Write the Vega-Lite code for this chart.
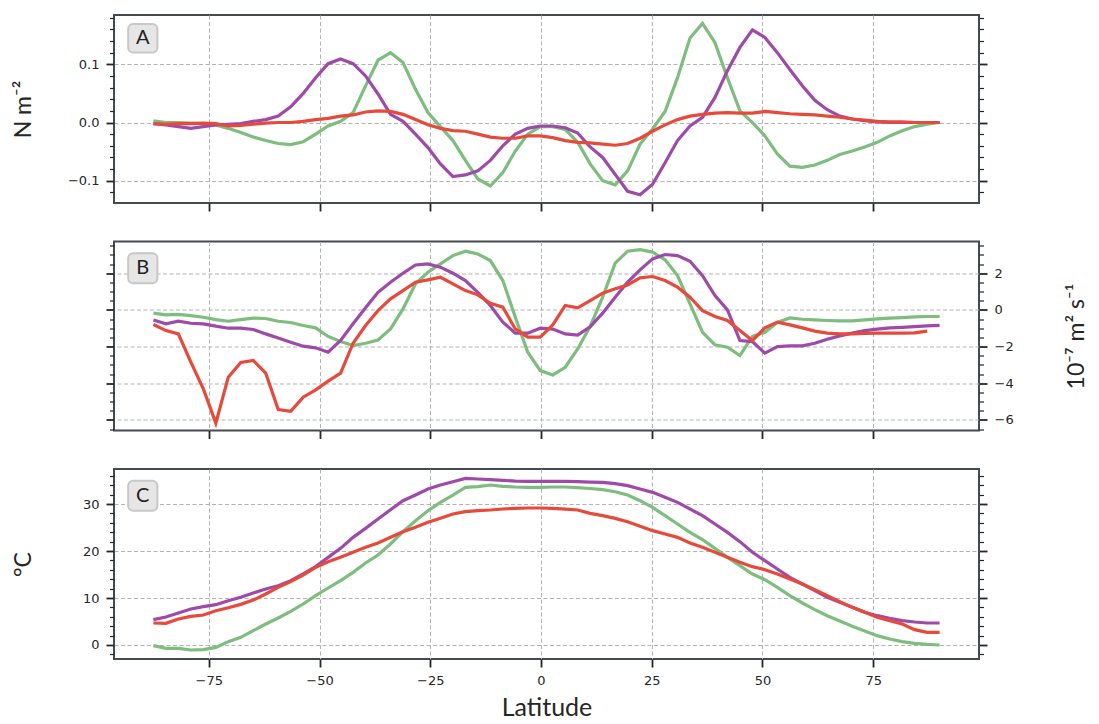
{
"$schema":"https://vega.github.io/schema/vega-lite/v6.json",
"padding":{"left":11,"top":10,"right":5,"bottom":5},
"background":"white",
"spacing":38.5,
"bounds":"flush",
"datasets":{
"A":[
{"lat":-87.5,"g":0.003,"p":-0.002,"r":-0.002},
{"lat":-84.68,"g":0,"p":-0.004,"r":-0.003},
{"lat":-81.87,"g":0,"p":-0.007,"r":-0.002},
{"lat":-79.05,"g":-0.001,"p":-0.01,"r":-0.002},
{"lat":-76.23,"g":-0.002,"p":-0.007,"r":-0.001},
{"lat":-73.41,"g":-0.004,"p":-0.004,"r":-0.002},
{"lat":-70.6,"g":-0.01,"p":-0.003,"r":-0.006},
{"lat":-67.78,"g":-0.017,"p":-0.002,"r":-0.005},
{"lat":-64.96,"g":-0.025,"p":0.002,"r":-0.003},
{"lat":-62.14,"g":-0.031,"p":0.005,"r":-0.001},
{"lat":-59.33,"g":-0.036,"p":0.011,"r":0},
{"lat":-56.51,"g":-0.038,"p":0.027,"r":0},
{"lat":-53.69,"g":-0.033,"p":0.05,"r":0.002},
{"lat":-50.87,"g":-0.02,"p":0.077,"r":0.005},
{"lat":-48.06,"g":-0.006,"p":0.101,"r":0.007},
{"lat":-45.24,"g":0.002,"p":0.109,"r":0.011},
{"lat":-42.42,"g":0.017,"p":0.101,"r":0.013},
{"lat":-39.6,"g":0.063,"p":0.08,"r":0.018},
{"lat":-36.79,"g":0.107,"p":0.049,"r":0.02},
{"lat":-33.97,"g":0.12,"p":0.014,"r":0.019},
{"lat":-31.15,"g":0.103,"p":0.002,"r":0.014},
{"lat":-28.33,"g":0.057,"p":-0.02,"r":0.005},
{"lat":-25.52,"g":0.017,"p":-0.043,"r":-0.004},
{"lat":-22.7,"g":-0.007,"p":-0.071,"r":-0.01},
{"lat":-19.88,"g":-0.031,"p":-0.093,"r":-0.014},
{"lat":-17.06,"g":-0.065,"p":-0.09,"r":-0.015},
{"lat":-14.25,"g":-0.097,"p":-0.083,"r":-0.02},
{"lat":-11.43,"g":-0.109,"p":-0.065,"r":-0.025},
{"lat":-8.61,"g":-0.086,"p":-0.04,"r":-0.027},
{"lat":-5.79,"g":-0.049,"p":-0.02,"r":-0.027},
{"lat":-2.98,"g":-0.02,"p":-0.01,"r":-0.023},
{"lat":-0.16,"g":-0.007,"p":-0.006,"r":-0.023},
{"lat":2.66,"g":-0.007,"p":-0.006,"r":-0.026},
{"lat":5.48,"g":-0.012,"p":-0.009,"r":-0.031},
{"lat":8.29,"g":-0.034,"p":-0.018,"r":-0.034},
{"lat":11.11,"g":-0.071,"p":-0.042,"r":-0.035},
{"lat":13.93,"g":-0.1,"p":-0.06,"r":-0.037},
{"lat":16.75,"g":-0.107,"p":-0.089,"r":-0.039},
{"lat":19.56,"g":-0.083,"p":-0.118,"r":-0.036},
{"lat":22.38,"g":-0.037,"p":-0.124,"r":-0.027},
{"lat":25.2,"g":-0.011,"p":-0.106,"r":-0.015},
{"lat":28.02,"g":0.019,"p":-0.069,"r":-0.004},
{"lat":30.83,"g":0.077,"p":-0.031,"r":0.005},
{"lat":33.65,"g":0.145,"p":-0.006,"r":0.011},
{"lat":36.47,"g":0.17,"p":0.009,"r":0.014},
{"lat":39.29,"g":0.137,"p":0.043,"r":0.016},
{"lat":42.1,"g":0.077,"p":0.089,"r":0.017},
{"lat":44.92,"g":0.02,"p":0.129,"r":0.016},
{"lat":47.74,"g":0,"p":0.159,"r":0.016},
{"lat":50.56,"g":-0.023,"p":0.146,"r":0.019},
{"lat":53.37,"g":-0.054,"p":0.12,"r":0.017},
{"lat":56.19,"g":-0.075,"p":0.091,"r":0.015},
{"lat":59.01,"g":-0.077,"p":0.063,"r":0.014},
{"lat":61.83,"g":-0.073,"p":0.038,"r":0.013},
{"lat":64.64,"g":-0.065,"p":0.022,"r":0.011},
{"lat":67.46,"g":-0.055,"p":0.011,"r":0.009},
{"lat":70.28,"g":-0.049,"p":0.006,"r":0.006},
{"lat":73.1,"g":-0.042,"p":0.003,"r":0.004},
{"lat":75.91,"g":-0.034,"p":0.001,"r":0.002},
{"lat":78.73,"g":-0.023,"p":0,"r":0.001},
{"lat":81.55,"g":-0.014,"p":0,"r":0.001},
{"lat":84.37,"g":-0.007,"p":0,"r":0},
{"lat":87.18,"g":-0.003,"p":0,"r":0},
{"lat":90,"g":0,"p":0,"r":0}
],
"B":[
{"lat":-87.5,"g":-0.18,"p":-0.55,"r":-0.8},
{"lat":-84.68,"g":-0.27,"p":-0.76,"r":-1.13},
{"lat":-81.87,"g":-0.25,"p":-0.62,"r":-1.31},
{"lat":-79.05,"g":-0.31,"p":-0.73,"r":-2.85},
{"lat":-76.23,"g":-0.4,"p":-0.76,"r":-4.31},
{"lat":-73.41,"g":-0.53,"p":-0.89,"r":-6.18},
{"lat":-70.6,"g":-0.62,"p":-1.0,"r":-3.67},
{"lat":-67.78,"g":-0.53,"p":-1.0,"r":-2.87},
{"lat":-64.96,"g":-0.45,"p":-1.07,"r":-2.76},
{"lat":-62.14,"g":-0.47,"p":-1.31,"r":-3.45},
{"lat":-59.33,"g":-0.62,"p":-1.53,"r":-5.44},
{"lat":-56.51,"g":-0.69,"p":-1.76,"r":-5.53},
{"lat":-53.69,"g":-0.85,"p":-1.98,"r":-4.76},
{"lat":-50.87,"g":-0.98,"p":-2.07,"r":-4.36},
{"lat":-48.06,"g":-1.45,"p":-2.31,"r":-3.89},
{"lat":-45.24,"g":-1.73,"p":-1.67,"r":-3.45},
{"lat":-42.42,"g":-1.95,"p":-0.76,"r":-1.82},
{"lat":-39.6,"g":-1.82,"p":0.11,"r":-0.85},
{"lat":-36.79,"g":-1.64,"p":0.96,"r":-0.04},
{"lat":-33.97,"g":-1.04,"p":1.51,"r":0.6},
{"lat":-31.15,"g":0.05,"p":2.0,"r":1.05},
{"lat":-28.33,"g":1.42,"p":2.45,"r":1.51},
{"lat":-25.52,"g":2.05,"p":2.51,"r":1.64},
{"lat":-22.7,"g":2.51,"p":2.33,"r":1.78},
{"lat":-19.88,"g":2.96,"p":2.0,"r":1.42},
{"lat":-17.06,"g":3.2,"p":1.6,"r":1.05},
{"lat":-14.25,"g":3.05,"p":0.96,"r":0.82},
{"lat":-11.43,"g":2.69,"p":0.24,"r":0.36},
{"lat":-8.61,"g":1.6,"p":-0.67,"r":0.15},
{"lat":-5.79,"g":-0.4,"p":-1.27,"r":-1.04},
{"lat":-2.98,"g":-2.31,"p":-1.27,"r":-1.49},
{"lat":-0.16,"g":-3.31,"p":-1.0,"r":-1.49},
{"lat":2.66,"g":-3.55,"p":-1.05,"r":-0.82},
{"lat":5.48,"g":-3.13,"p":-1.31,"r":0.24},
{"lat":8.29,"g":-2.13,"p":-1.38,"r":0.11},
{"lat":11.11,"g":-0.9,"p":-0.92,"r":0.51},
{"lat":13.93,"g":0.69,"p":-0.18,"r":0.91},
{"lat":16.75,"g":2.55,"p":0.69,"r":1.15},
{"lat":19.56,"g":3.2,"p":1.51,"r":1.36},
{"lat":22.38,"g":3.29,"p":2.18,"r":1.75},
{"lat":25.2,"g":3.15,"p":2.78,"r":1.82},
{"lat":28.02,"g":2.73,"p":3.02,"r":1.6},
{"lat":30.83,"g":1.87,"p":2.96,"r":1.24},
{"lat":33.65,"g":0.33,"p":2.65,"r":0.69},
{"lat":36.47,"g":-1.22,"p":1.87,"r":-0.04},
{"lat":39.29,"g":-1.91,"p":0.78,"r":-0.36},
{"lat":42.1,"g":-2.04,"p":0,"r":-0.58},
{"lat":44.92,"g":-2.49,"p":-1.67,"r":-1.13},
{"lat":47.74,"g":-1.45,"p":-1.73,"r":-1.67},
{"lat":50.56,"g":-1.22,"p":-2.36,"r":-0.98},
{"lat":53.37,"g":-0.69,"p":-2.0,"r":-0.67},
{"lat":56.19,"g":-0.44,"p":-1.96,"r":-0.82},
{"lat":59.01,"g":-0.51,"p":-1.96,"r":-0.98},
{"lat":61.83,"g":-0.55,"p":-1.82,"r":-1.16},
{"lat":64.64,"g":-0.58,"p":-1.6,"r":-1.27},
{"lat":67.46,"g":-0.6,"p":-1.42,"r":-1.31},
{"lat":70.28,"g":-0.6,"p":-1.27,"r":-1.31},
{"lat":73.1,"g":-0.55,"p":-1.13,"r":-1.29},
{"lat":75.91,"g":-0.49,"p":-1.05,"r":-1.27},
{"lat":78.73,"g":-0.45,"p":-0.98,"r":-1.27},
{"lat":81.55,"g":-0.42,"p":-0.95,"r":-1.27},
{"lat":84.37,"g":-0.38,"p":-0.91,"r":-1.25},
{"lat":87.18,"g":-0.36,"p":-0.87,"r":-1.16},
{"lat":90,"g":-0.36,"p":-0.85,"r":null}
],
"C":[
{"lat":-87.5,"g":-0.14,"p":5.39,"r":4.68},
{"lat":-84.68,"g":-0.71,"p":5.96,"r":4.61},
{"lat":-81.87,"g":-0.71,"p":6.81,"r":5.53},
{"lat":-79.05,"g":-1.06,"p":7.66,"r":6.1},
{"lat":-76.23,"g":-0.99,"p":8.16,"r":6.38},
{"lat":-73.41,"g":-0.5,"p":8.58,"r":7.3},
{"lat":-70.6,"g":0.71,"p":9.43,"r":7.94},
{"lat":-67.78,"g":1.63,"p":10.14,"r":8.65},
{"lat":-64.96,"g":3.05,"p":11.06,"r":9.57},
{"lat":-62.14,"g":4.47,"p":11.91,"r":10.85},
{"lat":-59.33,"g":5.74,"p":12.62,"r":12.27},
{"lat":-56.51,"g":7.16,"p":13.69,"r":13.48},
{"lat":-53.69,"g":8.72,"p":15.11,"r":14.89},
{"lat":-50.87,"g":10.5,"p":16.67,"r":16.52},
{"lat":-48.06,"g":12.13,"p":18.65,"r":17.73},
{"lat":-45.24,"g":13.69,"p":20.57,"r":18.65},
{"lat":-42.42,"g":15.46,"p":22.91,"r":19.72},
{"lat":-39.6,"g":17.45,"p":24.82,"r":20.78},
{"lat":-36.79,"g":19.15,"p":26.81,"r":21.7},
{"lat":-33.97,"g":21.49,"p":28.79,"r":22.91},
{"lat":-31.15,"g":24.11,"p":30.71,"r":24.11},
{"lat":-28.33,"g":26.45,"p":31.91,"r":25.04},
{"lat":-25.52,"g":28.58,"p":33.19,"r":26.1},
{"lat":-22.7,"g":30.35,"p":34.04,"r":26.95},
{"lat":-19.88,"g":31.91,"p":34.75,"r":27.87},
{"lat":-17.06,"g":33.55,"p":35.46,"r":28.37},
{"lat":-14.25,"g":33.69,"p":35.32,"r":28.58},
{"lat":-11.43,"g":34.04,"p":35.18,"r":28.72},
{"lat":-8.61,"g":33.76,"p":35.04,"r":28.94},
{"lat":-5.79,"g":33.62,"p":34.89,"r":29.08},
{"lat":-2.98,"g":33.55,"p":34.82,"r":29.15},
{"lat":-0.16,"g":33.55,"p":34.82,"r":29.15},
{"lat":2.66,"g":33.62,"p":34.82,"r":29.08},
{"lat":5.48,"g":33.62,"p":34.82,"r":28.9},
{"lat":8.29,"g":33.48,"p":34.75,"r":28.72},
{"lat":11.11,"g":33.3,"p":34.65,"r":28.0},
{"lat":13.93,"g":33.05,"p":34.6,"r":27.52},
{"lat":16.75,"g":32.62,"p":34.33,"r":26.95},
{"lat":19.56,"g":31.91,"p":33.9,"r":26.24},
{"lat":22.38,"g":30.71,"p":33.19,"r":25.25},
{"lat":25.2,"g":29.29,"p":32.48,"r":24.33},
{"lat":28.02,"g":27.52,"p":31.42,"r":23.62},
{"lat":30.83,"g":25.74,"p":30.35,"r":22.91},
{"lat":33.65,"g":23.97,"p":28.94,"r":21.7},
{"lat":36.47,"g":22.41,"p":27.52,"r":20.78},
{"lat":39.29,"g":20.57,"p":25.74,"r":19.72},
{"lat":42.1,"g":18.65,"p":23.97,"r":18.65},
{"lat":44.92,"g":16.88,"p":21.99,"r":17.59},
{"lat":47.74,"g":15.11,"p":19.72,"r":16.67},
{"lat":50.56,"g":13.9,"p":17.94,"r":16.03},
{"lat":53.37,"g":12.27,"p":16.17,"r":15.11},
{"lat":56.19,"g":10.5,"p":14.4,"r":14.04},
{"lat":59.01,"g":8.94,"p":12.98,"r":12.98},
{"lat":61.83,"g":7.52,"p":11.56,"r":11.77},
{"lat":64.64,"g":6.24,"p":10.14,"r":10.5},
{"lat":67.46,"g":5.11,"p":9.08,"r":9.22},
{"lat":70.28,"g":3.97,"p":8.01,"r":8.01},
{"lat":73.1,"g":2.98,"p":6.95,"r":6.95},
{"lat":75.91,"g":1.99,"p":6.24,"r":5.89},
{"lat":78.73,"g":1.28,"p":5.67,"r":5.18},
{"lat":81.55,"g":0.71,"p":5.18,"r":4.47},
{"lat":84.37,"g":0.35,"p":4.89,"r":3.26},
{"lat":87.18,"g":0.14,"p":4.68,"r":2.7},
{"lat":90,"g":0,"p":4.68,"r":2.7}
]
},
"vconcat":[
{
"width":865,"height":188,
"resolve":{"axis":{"y":"independent"}},
"layer":[
{"data":{"name":"A"},"transform":[{"fold":["g","p","r"],"as":["s","v"]}],
"mark":{"type":"line","strokeWidth":3.2},
"encoding":{
"x":{"field":"lat","type":"quantitative","scale":{"domain":[-96.4,98.9],"nice":false,"zero":false},
"axis":{"orient":"bottom","values":[-75,-50,-25,0,25,50,75],"labels":false,"title":null,"grid":true,"tickSize":8,"tickWidth":1.8}},
"y":{"field":"v","type":"quantitative","scale":{"domain":[-0.1382,0.1846],"nice":false,"zero":false},
"axis":{"orient":"left","values":[-0.12,-0.1,-0.08,-0.06,-0.04,-0.02,0,0.02,0.04,0.06,0.08,0.1,0.12,0.14,0.16,0.18],
"format":".1f","labelOverlap":false,
"labelExpr":"indexof([-0.1,0,0.1], datum.value) >= 0 ? datum.label : ''",
"tickSize":{"condition":{"test":"indexof([-0.1,0,0.1], datum.value) >= 0","value":8},"value":4.5},
"tickWidth":{"condition":{"test":"indexof([-0.1,0,0.1], datum.value) >= 0","value":1.8},"value":1.2},
"grid":true,
"gridOpacity":{"condition":{"test":"indexof([-0.1,0,0.1], datum.value) >= 0","value":1},"value":0},
"title":"N m⁻²","titlePadding":32}},
"color":{"field":"s","type":"nominal","scale":{"domain":["g","p","r"],"range":["#7dbd7d","#9e4aa9","#e74a3b"]},"legend":null}
}},
{"data":{"name":"A"},"transform":[{"fold":["g","p","r"],"as":["s","v"]}],
"mark":{"type":"line","opacity":0},
"encoding":{
"x":{"field":"lat","type":"quantitative","scale":{"domain":[-96.4,98.9],"nice":false,"zero":false},
"axis":{"orient":"bottom","values":[-75,-50,-25,0,25,50,75],"labels":false,"title":null,"grid":true,"tickSize":8,"tickWidth":1.8}},
"y":{"field":"v","type":"quantitative","scale":{"domain":[-0.1382,0.1846],"nice":false,"zero":false},
"axis":{"orient":"right","values":[-0.12,-0.1,-0.08,-0.06,-0.04,-0.02,0,0.02,0.04,0.06,0.08,0.1,0.12,0.14,0.16,0.18],
"labels":false,"grid":false,"title":null,
"tickSize":{"condition":{"test":"indexof([-0.1,0,0.1], datum.value) >= 0","value":8},"value":4.5},
"tickWidth":{"condition":{"test":"indexof([-0.1,0,0.1], datum.value) >= 0","value":1.8},"value":1.2}}}
}},
{"data":{"values":[{}]},
"mark":{"type":"rect","cornerRadius":5,"fill":"#e6e6e6","stroke":"#c8c8c8","strokeWidth":2},
"encoding":{
"x":{"datum":-93.2,"type":"quantitative","scale":{"domain":[-96.4,98.9],"nice":false,"zero":false},
"axis":{"orient":"bottom","values":[-75,-50,-25,0,25,50,75],"labels":false,"title":null,"grid":true,"tickSize":8,"tickWidth":1.8}},
"x2":{"datum":-86.6},
"y":{"datum":0.169,"type":"quantitative","scale":{"domain":[-0.1382,0.1846],"nice":false,"zero":false},"axis":null},
"y2":{"datum":0.120}}},
{"data":{"values":[{}]},
"mark":{"type":"text","text":"A","font":"Lato","fontSize":20,"color":"#222222","align":"center","baseline":"middle"},
"encoding":{
"x":{"datum":-89.9,"type":"quantitative","scale":{"domain":[-96.4,98.9],"nice":false,"zero":false},
"axis":{"orient":"bottom","values":[-75,-50,-25,0,25,50,75],"labels":false,"title":null,"grid":true,"tickSize":8,"tickWidth":1.8}},
"y":{"datum":0.1448,"type":"quantitative","scale":{"domain":[-0.1382,0.1846],"nice":false,"zero":false},"axis":null}}}
]
},
{
"width":865,"height":189,
"resolve":{"axis":{"y":"independent"}},
"layer":[
{"data":{"name":"B"},"transform":[{"fold":["g","p","r"],"as":["s","v"]}],
"mark":{"type":"line","strokeWidth":3.2},
"encoding":{
"x":{"field":"lat","type":"quantitative","scale":{"domain":[-96.4,98.9],"nice":false,"zero":false},
"axis":{"orient":"bottom","values":[-75,-50,-25,0,25,50,75],"labels":false,"title":null,"grid":true,"tickSize":8,"tickWidth":1.8}},
"y":{"field":"v","type":"quantitative","scale":{"domain":[-6.58,3.73],"nice":false,"zero":false},
"axis":{"orient":"right","values":[-6.5,-6,-5.5,-5,-4.5,-4,-3.5,-3,-2.5,-2,-1.5,-1,-0.5,0,0.5,1,1.5,2,2.5,3,3.5],
"format":".0f","labelOverlap":false,
"labelExpr":"datum.value % 2 == 0 ? datum.label : ''",
"tickSize":{"condition":{"test":"datum.value % 2 == 0","value":8},"value":4.5},
"tickWidth":{"condition":{"test":"datum.value % 2 == 0","value":1.8},"value":1.2},
"grid":true,
"gridOpacity":{"condition":{"test":"datum.value % 2 == 0","value":1},"value":0},
"title":"10⁻⁷ m² s⁻¹","titleAngle":270,"titleBaseline":"top","titlePadding":52}},
"color":{"field":"s","type":"nominal","scale":{"domain":["g","p","r"],"range":["#7dbd7d","#9e4aa9","#e74a3b"]},"legend":null}
}},
{"data":{"name":"B"},"transform":[{"fold":["g","p","r"],"as":["s","v"]}],
"mark":{"type":"line","opacity":0},
"encoding":{
"x":{"field":"lat","type":"quantitative","scale":{"domain":[-96.4,98.9],"nice":false,"zero":false},
"axis":{"orient":"bottom","values":[-75,-50,-25,0,25,50,75],"labels":false,"title":null,"grid":true,"tickSize":8,"tickWidth":1.8}},
"y":{"field":"v","type":"quantitative","scale":{"domain":[-6.58,3.73],"nice":false,"zero":false},
"axis":{"orient":"left","values":[-6.5,-6,-5.5,-5,-4.5,-4,-3.5,-3,-2.5,-2,-1.5,-1,-0.5,0,0.5,1,1.5,2,2.5,3,3.5],
"labels":false,"grid":false,"title":null,
"tickSize":{"condition":{"test":"datum.value % 2 == 0","value":8},"value":4.5},
"tickWidth":{"condition":{"test":"datum.value % 2 == 0","value":1.8},"value":1.2}}}
}},
{"data":{"values":[{}]},
"mark":{"type":"rect","cornerRadius":5,"fill":"#e6e6e6","stroke":"#c8c8c8","strokeWidth":2},
"encoding":{
"x":{"datum":-93.2,"type":"quantitative","scale":{"domain":[-96.4,98.9],"nice":false,"zero":false},
"axis":{"orient":"bottom","values":[-75,-50,-25,0,25,50,75],"labels":false,"title":null,"grid":true,"tickSize":8,"tickWidth":1.8}},
"x2":{"datum":-86.6},
"y":{"datum":3.09,"type":"quantitative","scale":{"domain":[-6.58,3.73],"nice":false,"zero":false},"axis":null},
"y2":{"datum":1.45}}},
{"data":{"values":[{}]},
"mark":{"type":"text","text":"B","font":"Lato","fontSize":20,"color":"#222222","align":"center","baseline":"middle"},
"encoding":{
"x":{"datum":-89.9,"type":"quantitative","scale":{"domain":[-96.4,98.9],"nice":false,"zero":false},
"axis":{"orient":"bottom","values":[-75,-50,-25,0,25,50,75],"labels":false,"title":null,"grid":true,"tickSize":8,"tickWidth":1.8}},
"y":{"datum":2.27,"type":"quantitative","scale":{"domain":[-6.58,3.73],"nice":false,"zero":false},"axis":null}}}
]
},
{
"width":865,"height":190,
"resolve":{"axis":{"y":"independent"}},
"layer":[
{"data":{"name":"C"},"transform":[{"fold":["g","p","r"],"as":["s","v"]}],
"mark":{"type":"line","strokeWidth":3.2},
"encoding":{
"x":{"field":"lat","type":"quantitative","scale":{"domain":[-96.4,98.9],"nice":false,"zero":false},
"axis":{"orient":"bottom","values":[-75,-50,-25,0,25,50,75],"labels":true,"title":"Latitude","titleFontSize":25,"titlePadding":8,"grid":true,"tickSize":8,"tickWidth":1.8}},
"y":{"field":"v","type":"quantitative","scale":{"domain":[-2.98,37.45],"nice":false,"zero":false},
"axis":{"orient":"left","values":[-2,0,2,4,6,8,10,12,14,16,18,20,22,24,26,28,30,32,34,36],
"format":".0f","labelOverlap":false,
"labelExpr":"datum.value % 10 == 0 ? datum.label : ''",
"tickSize":{"condition":{"test":"datum.value % 10 == 0","value":8},"value":4.5},
"tickWidth":{"condition":{"test":"datum.value % 10 == 0","value":1.8},"value":1.2},
"grid":true,
"gridOpacity":{"condition":{"test":"datum.value % 10 == 0","value":1},"value":0},
"title":"°C","titlePadding":47}},
"color":{"field":"s","type":"nominal","scale":{"domain":["g","p","r"],"range":["#7dbd7d","#9e4aa9","#e74a3b"]},"legend":null}
}},
{"data":{"name":"C"},"transform":[{"fold":["g","p","r"],"as":["s","v"]}],
"mark":{"type":"line","opacity":0},
"encoding":{
"x":{"field":"lat","type":"quantitative","scale":{"domain":[-96.4,98.9],"nice":false,"zero":false},
"axis":{"orient":"bottom","values":[-75,-50,-25,0,25,50,75],"labels":true,"title":"Latitude","titleFontSize":25,"titlePadding":8,"grid":true,"tickSize":8,"tickWidth":1.8}},
"y":{"field":"v","type":"quantitative","scale":{"domain":[-2.98,37.45],"nice":false,"zero":false},
"axis":{"orient":"right","values":[-2,0,2,4,6,8,10,12,14,16,18,20,22,24,26,28,30,32,34,36],
"labels":false,"grid":false,"title":null,
"tickSize":{"condition":{"test":"datum.value % 10 == 0","value":8},"value":4.5},
"tickWidth":{"condition":{"test":"datum.value % 10 == 0","value":1.8},"value":1.2}}}
}},
{"data":{"values":[{}]},
"mark":{"type":"rect","cornerRadius":5,"fill":"#e6e6e6","stroke":"#c8c8c8","strokeWidth":2},
"encoding":{
"x":{"datum":-93.2,"type":"quantitative","scale":{"domain":[-96.4,98.9],"nice":false,"zero":false},
"axis":{"orient":"bottom","values":[-75,-50,-25,0,25,50,75],"labels":true,"title":"Latitude","titleFontSize":25,"titlePadding":8,"grid":true,"tickSize":8,"tickWidth":1.8}},
"x2":{"datum":-86.6},
"y":{"datum":34.96,"type":"quantitative","scale":{"domain":[-2.98,37.45],"nice":false,"zero":false},"axis":null},
"y2":{"datum":28.57}}},
{"data":{"values":[{}]},
"mark":{"type":"text","text":"C","font":"Lato","fontSize":20,"color":"#222222","align":"center","baseline":"middle"},
"encoding":{
"x":{"datum":-89.9,"type":"quantitative","scale":{"domain":[-96.4,98.9],"nice":false,"zero":false},
"axis":{"orient":"bottom","values":[-75,-50,-25,0,25,50,75],"labels":true,"title":"Latitude","titleFontSize":25,"titlePadding":8,"grid":true,"tickSize":8,"tickWidth":1.8}},
"y":{"datum":31.77,"type":"quantitative","scale":{"domain":[-2.98,37.45],"nice":false,"zero":false},"axis":null}}}
]
}
],
"config":{
"view":{"stroke":"#454a4f","strokeWidth":2},
"axis":{"domain":false,"labelFont":"DejaVu Sans","labelFontSize":13,"labelColor":"#262626","tickColor":"#262626",
"gridColor":"#b3b3b3","gridDash":[4,2.5],"gridWidth":1,"titleFont":"Lato","titleFontSize":23,"titleFontWeight":"normal","titleColor":"#262626","labelPadding":7}
}
}
